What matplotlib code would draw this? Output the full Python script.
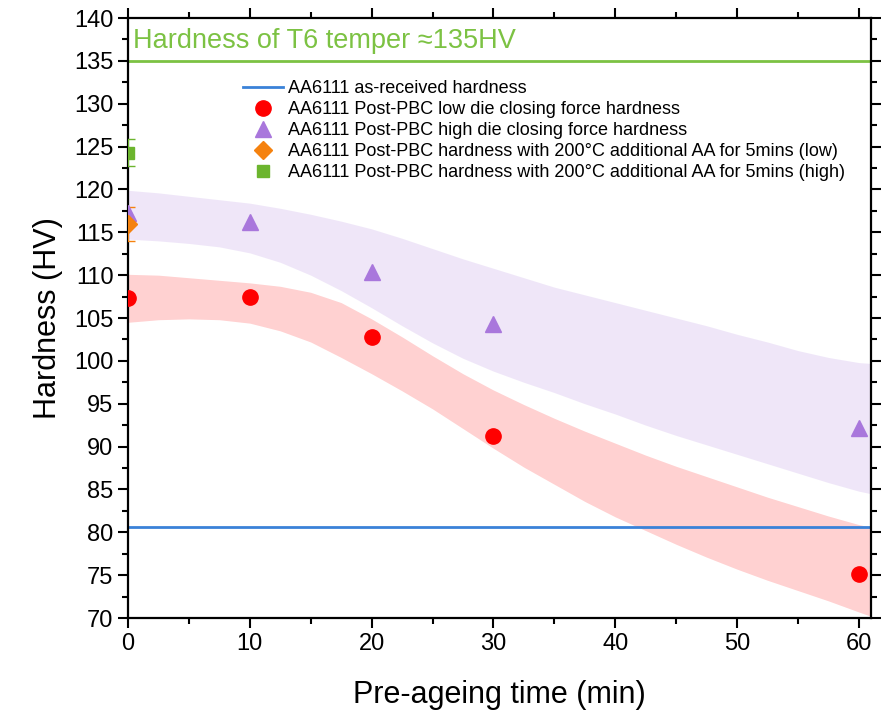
import matplotlib
matplotlib.use("Agg")
import matplotlib.pyplot as plt
from matplotlib.ticker import MultipleLocator

plt.rcParams['font.family'] = ['Liberation Sans', 'DejaVu Sans']

# ---- data ----
time_points = [0, 10, 20, 30, 60]
low_force = [107.3, 107.4, 102.8, 91.2, 75.1]
high_force = [117.2, 116.2, 110.4, 104.3, 92.2]
aa_time = [0]
aa_low = [116.0]
aa_low_err = [2.0]
aa_high = [124.3]
aa_high_err = [1.6]
as_received = 80.6
t6_hardness = 135

band_t = [0, 2.5, 5, 7.5, 10, 12.5, 15, 17.5, 20, 22.5, 25, 27.5, 30, 32.5, 35, 37.5,
          40, 42.5, 45, 47.5, 50, 52.5, 55, 57.5, 60, 61]
red_upper = [110.1, 110.0, 109.7, 109.4, 109.1, 108.7, 108.0, 106.8, 104.9, 102.8,
             100.6, 98.5, 96.6, 94.9, 93.3, 91.8, 90.4, 89.0, 87.7, 86.5, 85.3, 84.1,
             83.0, 81.9, 80.9, 80.6]
red_lower = [104.5, 104.8, 104.9, 104.8, 104.4, 103.5, 102.2, 100.4, 98.5, 96.5,
             94.4, 92.1, 89.8, 87.6, 85.6, 83.6, 81.8, 80.2, 78.6, 77.1, 75.7, 74.4,
             73.2, 72.0, 70.7, 70.2]
purple_upper = [119.9, 119.6, 119.2, 118.8, 118.4, 117.8, 117.1, 116.3, 115.4, 114.3,
                113.1, 111.9, 110.8, 109.7, 108.6, 107.7, 106.8, 105.9, 105.0, 104.1,
                103.1, 102.2, 101.2, 100.4, 99.8, 99.7]
purple_lower = [114.2, 114.0, 113.7, 113.3, 112.6, 111.5, 110.0, 108.2, 106.2, 104.1,
                102.1, 100.3, 98.8, 97.5, 96.3, 95.0, 93.8, 92.5, 91.3, 90.2, 89.1,
                88.0, 86.9, 85.8, 84.8, 84.5]

labels = ["AA6111 as-received hardness",
          "AA6111 Post-PBC low die closing force hardness",
          "AA6111 Post-PBC high die closing force hardness",
          "AA6111 Post-PBC hardness with 200\u00b0C additional AA for 5mins (low)",
          "AA6111 Post-PBC hardness with 200\u00b0C additional AA for 5mins (high)"]

c_red = '#ff0000'
c_purple = '#a977dc'
c_orange = '#f5820f'
c_green = '#6cb52e'
c_blue = '#3a82d8'
c_gline = '#7cc243'

fig = plt.figure(figsize=(8.87, 7.12), dpi=100)
ax = fig.add_axes([0.1443, 0.132, 0.8377, 0.8427])

ax.fill_between(band_t, purple_lower, purple_upper, color=c_purple, alpha=0.18, lw=0, zorder=1)
ax.fill_between(band_t, red_lower, red_upper, color=c_red, alpha=0.18, lw=0, zorder=1)

ax.axhline(t6_hardness, color=c_gline, lw=2, zorder=2)
ax.text(0.007, 0.962, "Hardness of T6 temper \u2248135HV", transform=ax.transAxes,
        color=c_gline, fontsize=19.5, va='center', ha='left')

ax.axhline(as_received, color=c_blue, lw=2, zorder=2, label=labels[0])
ax.plot(time_points, low_force, 'o', color=c_red, ms=11, ls='none', zorder=4, label=labels[1])
ax.plot(time_points, high_force, '^', color=c_purple, ms=12, ls='none', zorder=4, label=labels[2])
ax.errorbar(aa_time, aa_low, yerr=aa_low_err, fmt='none', ecolor=c_orange, capsize=5, elinewidth=1.5, zorder=3)
ax.plot(aa_time, aa_low, 'D', color=c_orange, ms=9, ls='none', zorder=4, label=labels[3])
ax.errorbar(aa_time, aa_high, yerr=aa_high_err, fmt='none', ecolor=c_green, capsize=5, elinewidth=1.5, zorder=3)
ax.plot(aa_time, aa_high, 's', color=c_green, ms=9, ls='none', zorder=4, label=labels[4])

ax.set_xlim(0, 61)
ax.set_ylim(70, 140)
ax.xaxis.set_major_locator(MultipleLocator(10))
ax.xaxis.set_minor_locator(MultipleLocator(5))
ax.yaxis.set_major_locator(MultipleLocator(5))
ax.yaxis.set_minor_locator(MultipleLocator(2.5))
ax.tick_params(which='both', direction='out', top=True, right=True, width=1.5, labelsize=17)
ax.tick_params(which='major', length=7)
ax.tick_params(which='minor', length=4)
for s in ax.spines.values():
    s.set_linewidth(1.6)

ax.set_xlabel("Pre-ageing time (min)", fontsize=22, labelpad=18)
ax.set_ylabel("Hardness (HV)", fontsize=22, labelpad=8)

ax.legend(loc='upper left', bbox_to_anchor=(0.155, 0.896), frameon=False, fontsize=13,
          numpoints=1, handlelength=2.2, handletextpad=0.3, labelspacing=0.22,
          borderpad=0, borderaxespad=0)

fig.savefig("out.png", dpi=100)
